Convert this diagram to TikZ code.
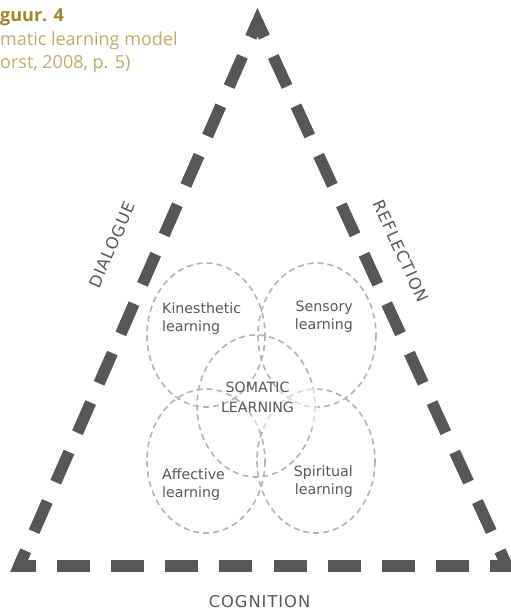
\documentclass[tikz,border=0pt]{standalone}
\usepackage{fontspec}
\setmainfont{Open Sans}
\newfontfamily\labfont{DejaVu Sans}
\newfontfamily\labspaced{DejaVu Sans}[LetterSpace=6]
\usetikzlibrary{calc}
\definecolor{tricol}{HTML}{575756}
\definecolor{txtcol}{HTML}{58585A}
\definecolor{circcol}{HTML}{B3B3B3}
\definecolor{goldbold}{HTML}{A08628}
\definecolor{goldreg}{HTML}{C2AB68}
\tikzset{
  triline/.style={draw=tricol, line width=11.5pt, line cap=butt, line join=miter},
  lens/.style={draw=circcol, line width=1.6pt, dash pattern=on 6pt off 4pt},
  lbl/.style={text=txtcol, inner sep=0pt, font=\labfont\fontsize{14.2}{18}\selectfont},
  sidelbl/.style={text=txtcol, inner sep=0pt, font=\labspaced\fontsize{16.3}{18}\selectfont},
  captxt/.style={inner sep=0pt, anchor=base west, font=\fontsize{18}{20}\selectfont}
}
\begin{document}
\begin{tikzpicture}[x=1pt, y=-1pt]
\useasboundingbox (0,0) rectangle (511,611);
% triangle corners
\coordinate (A) at (257.5,22);
\coordinate (B) at (19,566);
\coordinate (C) at (507,566);
% sides
\draw[triline, dash pattern=on 33pt off 21pt, dash phase=16.5pt] (A) -- (B);
\draw[triline, dash pattern=on 33pt off 21.22pt, dash phase=16.5pt] (B) -- (C);
\draw[triline, dash pattern=on 33pt off 21.41pt, dash phase=16.5pt] (C) -- (A);
% corner pieces
\draw[triline] ($(A)!16.5pt!(C)$) -- (A) -- ($(A)!16.5pt!(B)$);
\draw[triline] ($(B)!16.5pt!(A)$) -- (B) -- ($(B)!16.5pt!(C)$);
\draw[triline] ($(C)!16.5pt!(B)$) -- (C) -- ($(C)!16.5pt!(A)$);
% ellipses
\draw[lens] (206,335) ellipse [x radius=59, y radius=72];
\draw[lens] (317,335) ellipse [x radius=59, y radius=72];
\draw[lens] (206,461) ellipse [x radius=59, y radius=72];
\draw[lens] (316,461) ellipse [x radius=59, y radius=72];
\draw[lens] (256,406) ellipse [x radius=59, y radius=71];
\fill[white, opacity=0.5] (252,387) rectangle (318,428);
% labels
\node[lbl, anchor=west, align=left] (kin) at (162,319) {Kinesthetic\\learning};
\node[lbl, anchor=east, align=right] (sen) at (353,317) {Sensory\\learning};
\node[lbl, anchor=west, align=left] (aff) at (162,485) {Affective\\learning};
\node[lbl, anchor=east, align=right] (spi) at (353,482) {Spiritual\\learning};
\node[lbl, align=center, font=\labfont\fontsize{14.2}{20}\selectfont] (som) at (257.5,397) {SOMATIC\\LEARNING};
\node[sidelbl, rotate=66.4] (dia) at (112,245) {DIALOGUE};
\node[sidelbl, rotate=-65.4] (ref) at (401,251) {REFLECTION};
\node[sidelbl] (cog) at (259.5,602) {COGNITION};
% caption
\node[captxt, text=goldbold] (cap1) at (0,21) {\bfseries guur. 4};
\node[captxt, text=goldreg] (cap2) at (0,45) {matic learning model};
\node[captxt, text=goldreg] (cap3) at (0,68) {orst, 2008, p. 5)};
\end{tikzpicture}
\end{document}
